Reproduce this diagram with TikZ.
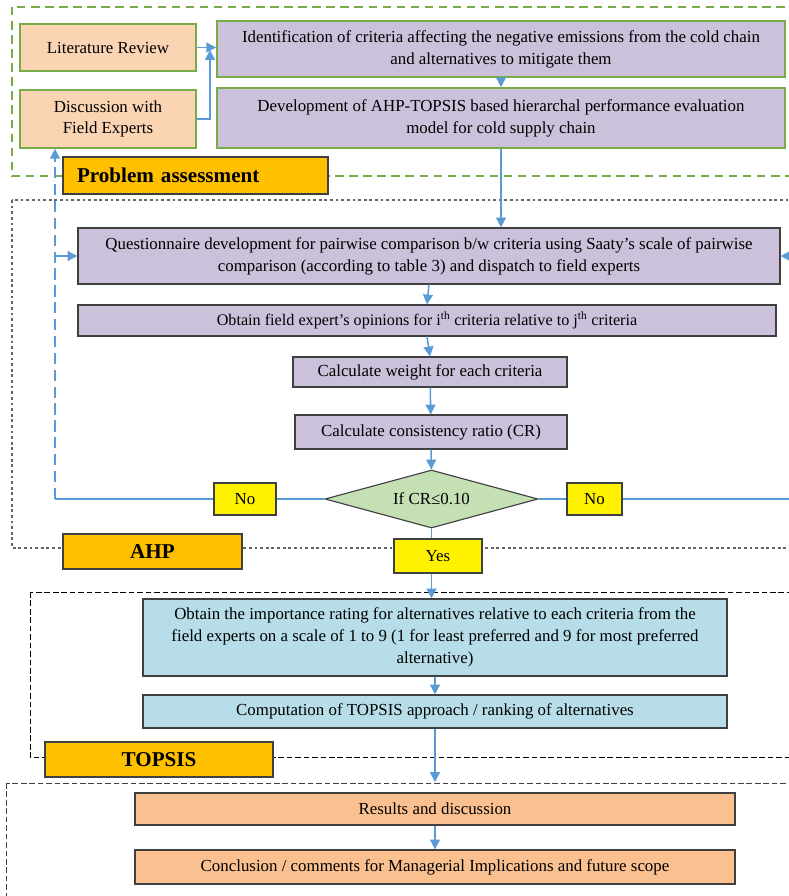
\documentclass[tikz,border=0pt]{standalone}
\usepackage{fontspec}
\setmainfont{Liberation Serif}
\usetikzlibrary{arrows.meta,shapes.geometric}
\definecolor{peach}{HTML}{FBD4B4}
\definecolor{leaf}{HTML}{77AC47}
\definecolor{lilac}{HTML}{CCC1DA}
\definecolor{edge}{HTML}{404040}
\definecolor{amber}{HTML}{FFC000}
\definecolor{sage}{HTML}{C5E0B4}
\definecolor{sky}{HTML}{B7DEE8}
\definecolor{salmon}{HTML}{FAC090}
\definecolor{flow}{HTML}{5B9BD5}
\newcommand\px{0.025cm}
\tikzset{
  sz/.style 2 args={minimum width=#1*\px, minimum height=#2*\px},
  box/.style={draw=edge, line width=0.8pt, inner sep=0pt, align=center,
    font=\fontsize{12}{15.5}\selectfont},
  pbox/.style={box, draw=leaf, line width=1.1pt, fill=peach},
  gbox/.style={box, draw=leaf, line width=1.1pt, fill=lilac},
  vbox/.style={box, fill=lilac},
  bbox/.style={box, fill=sky},
  obox/.style={box, fill=salmon},
  ybox/.style={box, fill=yellow},
  lbl/.style={box, fill=amber, font=\fontsize{15}{18}\bfseries},
  dia/.style={box, diamond, fill=sage, aspect=3.7},
  line/.style={draw=flow, line width=0.8pt},
  arr/.style={line, line width=1.1pt, -{Triangle[length=7pt,width=7pt]}},
}
\begin{document}
\begin{tikzpicture}[x=\px, y=-\px]
  \useasboundingbox (0,0) rectangle (789,896);
  \clip (0,0) rectangle (789,896);
  %%%%% FRAMES %%%%%
  \draw[leaf, line width=1.1pt, dash pattern=on 6pt off 4pt] (12,7) rectangle (820,176);
  \draw[edge!80, line width=0.8pt, dash pattern=on 2pt off 2pt] (12,200) rectangle (820,548);
  \draw[black, line width=0.7pt, dash pattern=on 4pt off 2pt] (30,592) rectangle (820,757);
  \draw[edge, line width=0.7pt, dash pattern=on 4pt off 2pt] (6,783) rectangle (820,920);

  %%%%% PROBLEM ASSESSMENT %%%%%
  \node[pbox, sz={176}{47}] (lit) at (108,47.5) {Literature Review};
  \node[pbox, sz={176}{58}] (disc) at (108,119) {Discussion with\\Field Experts};
  \node[gbox, sz={568}{56}] (ident) at (501,49)
    {Identification of criteria affecting the negative emissions from the cold chain\\and alternatives to mitigate them};
  \node[gbox, sz={568}{60}] (devel) at (501,118)
    {Development of AHP-TOPSIS based hierarchal performance evaluation\\model for cold supply chain};
  \node[lbl, sz={265}{37}, align=left, text width=237*\px] (probl) at (195.5,175.5) {Problem assessment};

  %%%%% AHP %%%%%
  \node[vbox, sz={702}{56}] (quest) at (429,256)
    {Questionnaire development for pairwise comparison b/w criteria using Saaty’s scale of pairwise\\comparison (according to table 3) and dispatch to field experts};
  \node[vbox, sz={698}{31}, font=\fontsize{11.5}{14}\selectfont] (opin) at (427,320.5)
    {Obtain field expert’s opinions for i\textsuperscript{th} criteria relative to j\textsuperscript{th} criteria};
  \node[vbox, sz={274}{30}] (weight) at (430,372) {Calculate weight for each criteria};
  \node[vbox, sz={272}{34}] (cons) at (431,432) {Calculate consistency ratio (CR)};
  \node[dia, sz={213}{58}] (crit) at (431.5,499) {If CR≤0.10};
  \node[ybox, sz={62}{32}] (no1) at (245,499) {No};
  \node[ybox, sz={55}{32}] (no2) at (594.5,499) {No};
  \node[ybox, sz={88}{34}] (yes) at (438,556) {Yes};
  \node[lbl, sz={179}{35}] (ahp) at (152.5,551.5) {AHP};

  %%%%% TOPSIS %%%%%
  \node[bbox, sz={584}{77}] (rate) at (435,637.5)
    {Obtain the importance rating for alternatives relative to each criteria from the\\field experts on a scale of 1 to 9 (1 for least preferred and 9 for most preferred\\alternative)};
  \node[bbox, sz={584}{33}] (comp) at (435,711.5)
    {Computation of TOPSIS approach / ranking of alternatives};
  \node[lbl, sz={228}{35}] (topl) at (159,759.5) {TOPSIS};

  %%%%% RESULTS %%%%%
  \node[obox, sz={600}{32}] (res) at (435,809) {Results and discussion};
  \node[obox, sz={600}{34}] (concl) at (435,867)
    {Conclusion / comments for Managerial Implications and future scope};

  %%%%% CONNECTORS %%%%%
  \coordinate (jn) at (210,50);
  \coordinate (lc) at (55,499);
  \coordinate (rc) at (800,499);
  \coordinate (rtop) at (435,782);
  \draw[arr] (lit.east) -- (lit.east -| ident.west);
  \draw[arr] (disc.east) -| (jn);
  \draw[arr] (ident.south) -- (devel.north);
  \draw[arr] (devel.south) -- (devel.south |- quest.north);
  \draw[arr] (quest.south) -- (opin.north);
  \draw[arr] (opin.south) -- (weight.north);
  \draw[arr] (weight) -- (cons);
  \draw[arr] (cons) -- (crit);
  \draw[line, line width=1.1pt] (crit.south) -- (crit.south |- yes.north);
  \draw[arr] (yes.south -| crit.south) -- (rate.north -| crit.south);
  \draw[arr] (rate) -- (comp);
  \draw[arr] (comp.south) -- (rtop);
  \draw[arr] (res) -- (concl);
  % feedback when CR is too large
  \draw[line] (crit.west) -- (no1.east);
  \draw[line] (no1.west) -- (lc);
  \draw[arr, dash pattern=on 8pt off 4pt] (lc) -- (lc |- disc.south);
  \draw[arr] (lc |- quest.west) -- (quest.west);
  \draw[line] (crit.east) -- (no2.west);
  \draw[arr] (no2.east) -- (rc) |- (quest.east);
\end{tikzpicture}
\end{document}
